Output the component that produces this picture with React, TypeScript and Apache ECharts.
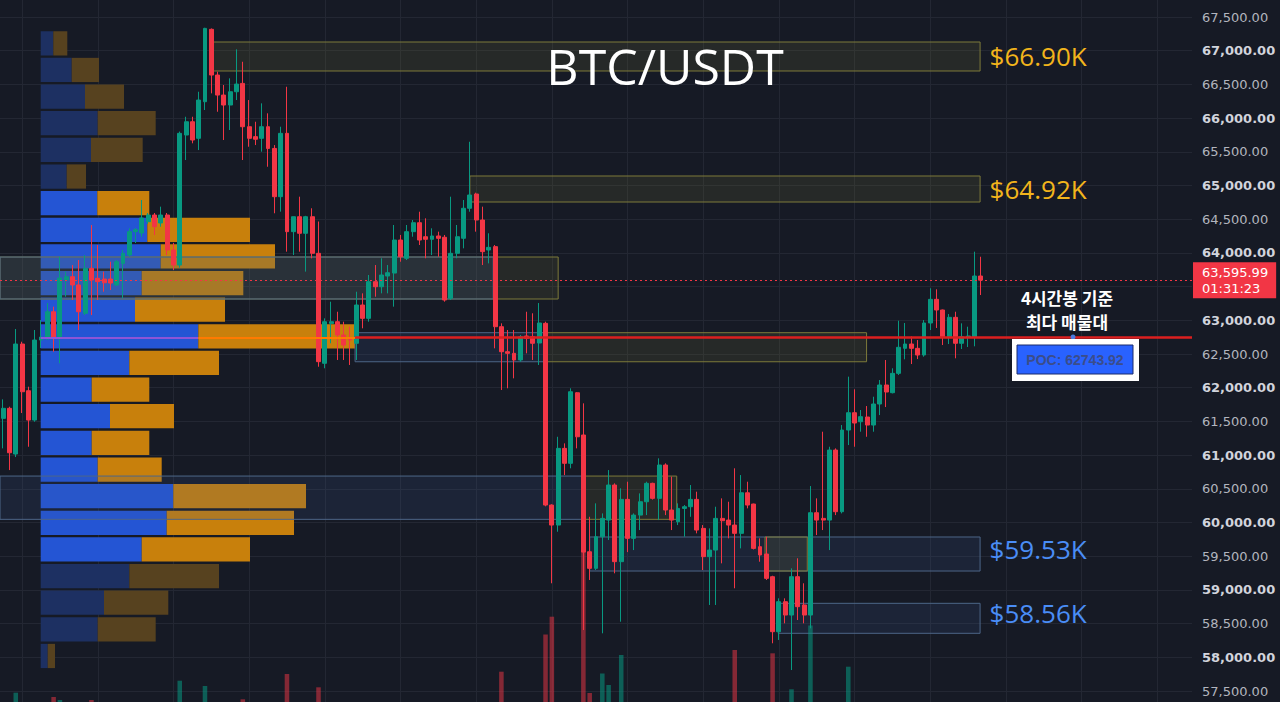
import React, { useEffect, useRef } from "react";
import * as echarts from "echarts";

// ---------- data ----------
const SLOT_COUNT = 189; // time slots on the x axis (candles + empty space on the right)

// [open, close, low, high]
const ohlc: number[][] = [
  [61545, 61694, 61100, 61827], [61694, 61035, 60778, 61718], [61016, 62648, 60971, 62871], [62648, 61940, 61624, 62682],
  [61955, 61520, 61124, 62015], [61520, 62707, 61495, 62856], [62707, 62751, 62588, 63004], [62733, 63127, 62707, 63256],
  [63127, 62733, 62534, 63202], [62756, 63627, 62362, 63943], [63598, 63647, 63350, 63722], [63647, 63524, 63301, 63820],
  [63524, 63127, 62856, 63894], [63104, 63771, 63078, 63968], [63771, 63598, 63078, 64414], [63623, 63573, 63301, 64117],
  [63612, 63557, 63424, 63722], [63612, 63553, 63449, 63869], [63524, 63869, 63509, 63894], [63845, 63994, 63326, 64043],
  [63969, 64315, 63943, 64365], [64315, 64345, 64147, 64370], [64295, 64518, 64240, 64785], [64463, 64562, 64429, 64592],
  [64562, 64389, 64266, 64592], [64444, 64562, 64389, 64686], [64562, 64043, 63969, 64592], [64043, 63820, 63746, 64147],
  [63820, 65774, 63780, 65800], [65749, 65946, 65378, 66020], [65946, 65675, 65626, 66020], [65700, 66268, 65526, 66391],
  [66243, 67331, 66120, 67340], [67317, 66639, 66367, 67330], [66639, 66342, 66094, 66688], [66342, 66194, 65675, 66491],
  [66194, 66391, 65823, 66590], [66391, 66505, 66268, 67020], [66515, 65872, 65378, 66836], [65872, 65700, 65575, 66268],
  [65725, 65686, 65600, 65946], [65700, 65872, 65502, 66219], [65872, 65550, 65278, 66071], [65550, 64834, 64588, 65600],
  [64834, 65774, 64612, 65872], [65774, 64315, 64018, 66465], [64315, 64537, 63969, 64538], [64537, 64291, 64018, 64834],
  [64291, 64537, 63722, 64550], [64537, 63994, 63919, 64662], [63994, 62386, 62311, 64466], [62362, 62979, 62288, 63029],
  [62954, 62979, 62659, 63276], [62979, 62782, 62411, 63127], [62782, 62633, 62411, 62979], [62744, 62707, 62337, 62905],
  [62659, 63227, 62411, 63424], [63227, 63029, 62881, 63400], [63029, 63573, 62979, 63672], [63573, 63498, 63350, 63820],
  [63498, 63672, 63400, 63920], [63657, 63706, 63400, 63820], [63701, 64191, 63202, 64414], [64191, 63943, 63869, 64266],
  [63920, 64315, 63894, 64414], [64315, 64448, 64240, 64488], [64448, 64191, 64117, 64611], [64240, 64202, 63920, 64513],
  [64202, 64251, 63969, 64365], [64251, 64216, 63943, 64315], [64232, 63301, 63276, 64266], [63326, 63994, 63301, 64834],
  [63994, 64240, 63920, 64414], [64217, 64662, 64068, 64785], [64662, 64859, 64611, 65649], [64874, 64488, 64315, 64893],
  [64488, 64018, 63820, 64686], [64043, 64082, 63845, 64291], [64093, 62905, 62584, 64117], [62905, 62534, 61966, 62955],
  [62534, 62510, 61991, 62856], [62510, 62411, 62139, 62856], [62411, 62756, 62386, 62782], [62767, 62733, 62510, 63127],
  [62756, 62659, 62411, 63104], [62663, 62960, 62337, 63256], [62955, 60259, 60240, 62979], [60259, 59962, 59098, 60270],
  [59962, 61100, 59863, 61272], [61100, 60878, 60704, 61174], [60878, 61940, 60804, 61991], [61925, 61272, 61100, 61935],
  [61298, 59561, 58405, 61768], [59566, 59320, 59147, 60085], [59320, 59788, 59295, 60284], [59788, 60061, 58356, 60135],
  [60036, 60556, 59740, 60778], [60556, 59419, 59246, 60581], [59419, 60343, 58528, 60507], [60343, 59765, 59561, 60605],
  [59765, 60110, 59591, 60135], [60110, 60308, 59888, 60432], [60308, 60581, 60110, 60605], [60581, 60358, 60340, 60590],
  [60358, 60853, 60036, 60952], [60853, 60185, 60110, 60878], [60185, 60036, 59888, 60680], [60011, 60209, 59962, 60284],
  [60209, 60234, 59789, 60259], [60234, 60343, 60085, 60556], [60343, 59888, 59839, 60457], [59913, 59493, 59295, 59962],
  [59493, 59591, 58776, 59913], [59591, 60061, 58776, 60234], [60061, 60026, 59394, 60358], [60036, 59962, 59765, 60308],
  [59962, 59839, 59024, 60804], [59839, 60441, 59616, 60704], [60441, 60259, 60210, 60605], [60274, 59616, 59600, 60280],
  [59641, 59518, 59418, 59765], [59532, 59171, 59147, 59788], [59196, 58380, 58208, 59210], [58380, 58825, 58257, 58875],
  [58825, 58627, 58504, 58875], [58627, 59196, 57811, 59320], [59196, 58751, 58553, 59469], [58776, 58627, 58504, 59098],
  [58627, 60145, 58430, 60541], [60145, 60036, 59814, 60358], [60061, 60036, 59888, 61347], [60036, 61075, 59591, 61124],
  [61075, 60160, 60110, 61100], [60160, 61372, 60135, 61446], [61372, 61629, 61149, 62164], [61629, 61476, 61124, 61976],
  [61495, 61570, 61347, 61669], [61565, 61446, 61272, 61728], [61446, 61758, 61347, 61866], [61758, 62040, 61594, 62114],
  [62040, 61936, 61713, 62411], [61926, 62213, 61916, 62288], [62213, 62599, 62188, 62994], [62584, 62648, 62421, 62960],
  [62648, 62584, 62351, 62759], [62584, 62485, 62425, 62707], [62485, 62960, 62460, 63004], [62960, 63311, 62856, 63475],
  [63311, 63153, 62886, 63460], [63153, 62756, 62633, 63160], [62756, 63044, 62648, 63093], [63044, 62659, 62436, 63127],
  [62659, 62756, 62574, 62955], [62746, 62767, 62604, 62905], [62756, 63657, 62614, 64018], [63657, 63596, 63375, 63943],
];

// visible volume bars: [candle index, volume]
const volumeBars: [number, number][] = [
  [2, 93], [8, 50], [9, 20], [14, 20], [28, 213], [32, 160], [38, 27], [45, 280], [50, 147],
  [79, 303], [86, 675], [87, 853], [92, 1503], [93, 90], [95, 285], [96, 170], [98, 470],
  [116, 520], [122, 487], [125, 127], [128, 765], [134, 353],
];

// volume profile rows, top (high price) to bottom
const profileUp = [126, 310, 443, 570, 503, 260, 566, 1066, 1200, 1010, 943, 1576, 886, 510, 693, 510, 570, 1326, 1260, 1010, 886, 633, 570, 70];
const profileDown = [140, 273, 390, 580, 517, 193, 520, 1027, 1143, 1016, 900, 1567, 897, 576, 640, 576, 640, 1327, 1273, 1083, 897, 643, 580, 73];
const valueAreaFirstRow = 6;
const valueAreaLastRow = 19;

const lastPrice = 63595.99;
const countdown = "01:31:23";
const poc = 62743.92;

const priceMin = 57500;
const priceMax = 67500;
const priceStep = 500;

// zones: x in candle-index units
const zones = [
  { from: 33.3, to: 154.9, low: 66699, high: 67129, kind: "supply", label: "$66.90K" },
  { from: 74.0, to: 154.9, low: 64755, high: 65141, kind: "supply", label: "$64.92K" },
  { from: -0.5, to: 88.0, low: 63316, high: 63939, kind: "supply", label: "" },
  { from: -0.5, to: 77.7, low: 63316, high: 63939, kind: "demand", label: "" },
  { from: 55.8, to: 85.9, low: 62385, high: 62816, kind: "demand", label: "" },
  { from: 85.9, to: 136.9, low: 62385, high: 62816, kind: "supply", label: "" },
  { from: -0.5, to: 92.3, low: 60047, high: 60689, kind: "demand", label: "" },
  { from: 92.3, to: 106.8, low: 60047, high: 60689, kind: "supply", label: "" },
  { from: 93.0, to: 154.9, low: 59280, high: 59785, kind: "demand", label: "$59.53K" },
  { from: 120.8, to: 127.5, low: 59280, high: 59785, kind: "supply", label: "" },
  { from: 122.9, to: 154.9, low: 58356, high: 58801, kind: "demand", label: "$58.56K" },
];

// POC line segments (candle-index units)
const pocProfileStart = 5.95;
const pocProfileBlueEnd = 30.94;
const pocProfileOrangeEnd = 55.8;

// ---------- style ----------
const BG = "#161a25";
const GRID = "#232733";
const UP = "#089981";
const DOWN = "#f23645";

export default function App() {
  const ref = useRef<HTMLDivElement>(null);

  useEffect(() => {
    if (!ref.current) return;
    const chart = echarts.init(ref.current, undefined, { renderer: "svg" });

    const slots = Array.from({ length: SLOT_COUNT }, (_, i) => String(i));
    const volData: any[] = Array.from({ length: SLOT_COUNT }, () => null);
    volumeBars.forEach(([i, v]) => {
      const c = ohlc[i];
      const up = c[1] >= c[0];
      volData[i] = {
        value: v,
        itemStyle: { color: up ? "rgba(8,153,129,0.55)" : "rgba(242,54,69,0.5)" },
      };
    });

    const inVA = (i: number) => i >= valueAreaFirstRow && i <= valueAreaLastRow;

    const fmt = (v: number) =>
      v.toLocaleString("en-US", { minimumFractionDigits: 2, maximumFractionDigits: 2 });

    const zoneAreas = zones.map((z) => {
      const supply = z.kind === "supply";
      return [
        {
          coord: [z.from, z.high],
          itemStyle: {
            color: supply ? "rgba(125,122,55,0.16)" : "rgba(60,95,150,0.16)",
            borderColor: supply ? "#7d7a3a" : "#4d6687",
            borderWidth: 1,
          },
          label: z.label
            ? {
                show: true,
                position: "right",
                distance: 9,
                offset: supply ? [0, 0] : [0, -5],
                formatter: z.label,
                color: supply ? "#f2b51c" : "#4a8df6",
                fontSize: 26,
                fontFamily: "Open Sans",
              }
            : { show: false },
        },
        { coord: [z.to, z.low] },
      ];
    });

    const option: any = {
      animation: false,
      backgroundColor: BG,
      grid: [
        { left: 0, right: 88, top: 17, bottom: 11 },
        { left: 0, right: 88, top: 0, bottom: 0 },
        { left: 40.7, top: 30, height: 639.3, width: 400 },
      ],
      xAxis: [
        { type: "category", gridIndex: 0, data: slots, show: false },
        { type: "value", gridIndex: 0, min: -0.5, max: SLOT_COUNT - 0.5, show: false },
        {
          type: "category",
          gridIndex: 1,
          data: slots,
          axisLine: { show: false },
          axisTick: { show: false },
          axisLabel: { show: false },
          splitLine: {
            show: true,
            alignWithLabel: true,
            interval: (i: number) => i % 12 === 3,
            lineStyle: { color: GRID, width: 1 },
          },
        },
        { type: "value", gridIndex: 2, min: 0, max: 4000, show: false },
      ],
      yAxis: [
        {
          type: "value",
          gridIndex: 0,
          position: "right",
          min: priceMin,
          max: priceMax,
          interval: priceStep,
          axisLine: { show: false },
          axisTick: { show: false },
          splitLine: { show: true, lineStyle: { color: GRID, width: 1 } },
          axisLabel: {
            margin: 10,
            showMinLabel: true,
            showMaxLabel: true,
            // the tick hidden behind the last-price tag is not drawn
            formatter: (v: number) =>
              Math.abs(v - lastPrice) < 250
                ? ""
                : v % 1000 === 0
                ? `{b|${fmt(v)}}`
                : `{n|${fmt(v)}}`,
            rich: {
              b: { fontFamily: "DejaVu Sans", fontSize: 13, fontWeight: "bold", color: "#d1d4dc" },
              n: { fontFamily: "DejaVu Sans", fontSize: 13, color: "#b2b5be" },
            },
          },
        },
        { type: "value", gridIndex: 1, min: 0, max: 7020, show: false },
        {
          type: "category",
          gridIndex: 2,
          inverse: true,
          data: profileUp.map((_, i) => String(i)),
          show: false,
        },
      ],
      series: [
        {
          name: "VP up",
          type: "bar",
          xAxisIndex: 3,
          yAxisIndex: 2,
          stack: "vp",
          barCategoryGap: "9%",
          z: 1,
          silent: true,
          data: profileUp.map((v, i) => ({
            value: v,
            itemStyle: { color: inVA(i) ? "#2455d4" : "#1d3062" },
          })),
        },
        {
          name: "VP down",
          type: "bar",
          xAxisIndex: 3,
          yAxisIndex: 2,
          stack: "vp",
          barCategoryGap: "9%",
          z: 1,
          silent: true,
          data: profileDown.map((v, i) => ({
            value: v,
            itemStyle: { color: inVA(i) ? "#c8800c" : "#57421f" },
          })),
        },
        {
          name: "zones",
          type: "line",
          xAxisIndex: 1,
          yAxisIndex: 0,
          data: [],
          silent: true,
          markArea: { silent: true, z: 2, data: zoneAreas },
          markLine: {
            silent: true,
            z: 5,
            symbol: ["none", "none"],
            label: { show: false },
            data: [
              [
                { coord: [pocProfileStart, poc], lineStyle: { color: "#8e55d6", width: 2, type: "solid" } },
                { coord: [pocProfileBlueEnd, poc] },
              ],
              [
                { coord: [pocProfileBlueEnd, poc], lineStyle: { color: "#ff7a00", width: 2, type: "solid" } },
                { coord: [pocProfileOrangeEnd, poc] },
              ],
              [
                { coord: [pocProfileOrangeEnd, poc], lineStyle: { color: "#dc1f1f", width: 2.5, type: "solid" } },
                { coord: [SLOT_COUNT - 0.5, poc] },
              ],
              [
                {
                  coord: [-0.5, lastPrice],
                  lineStyle: { color: DOWN, width: 1, type: [2, 3] },
                  label: {
                    show: true,
                    position: "end",
                    distance: 1,
                    formatter: `${fmt(lastPrice)}\n${countdown}`,
                    backgroundColor: DOWN,
                    color: "#ffffff",
                    fontFamily: "DejaVu Sans",
                    fontSize: 13,
                    lineHeight: 16,
                    padding: [2, 8, 2, 9],
                    align: "left",
                  },
                },
                { coord: [SLOT_COUNT - 0.5, lastPrice] },
              ],
            ],
          },
        },
        {
          name: "BTC/USDT",
          type: "candlestick",
          xAxisIndex: 0,
          yAxisIndex: 0,
          barWidth: "70%",
          z: 3,
          silent: true,
          data: ohlc,
          itemStyle: {
            color: UP,
            color0: DOWN,
            borderColor: UP,
            borderColor0: DOWN,
            borderWidth: 1,
          },
        },
        {
          name: "Volume",
          type: "bar",
          xAxisIndex: 2,
          yAxisIndex: 1,
          barWidth: "72%",
          z: 3,
          silent: true,
          data: volData,
        },
      ],
      graphic: [
        {
          type: "text",
          x: 665,
          y: 66,
          z: 20,
          style: {
            text: "BTC/USDT",
            fill: "#ffffff",
            fontSize: 50,
            fontWeight: 500,
            fontFamily: "Open Sans",
            align: "center",
            textAlign: "center",
            verticalAlign: "middle",
            textVerticalAlign: "middle",
          },
        },
        {
          type: "text",
          x: 1067,
          y: 297,
          z: 20,
          style: {
            text: "4시간봉 기준",
            fill: "#ffffff",
            fontSize: 17,
            fontWeight: "bold",
            fontFamily: "Noto Sans CJK KR",
            align: "center",
            textAlign: "center",
            verticalAlign: "middle",
            textVerticalAlign: "middle",
          },
        },
        {
          type: "text",
          x: 1067,
          y: 321,
          z: 20,
          style: {
            text: "최다 매물대",
            fill: "#ffffff",
            fontSize: 17,
            fontWeight: "bold",
            fontFamily: "Noto Sans CJK KR",
            align: "center",
            textAlign: "center",
            verticalAlign: "middle",
            textVerticalAlign: "middle",
          },
        },
        { type: "circle", z: 20, shape: { cx: 1073, cy: 337, r: 2.5 }, style: { fill: "#4a7be0" } },
        { type: "rect", z: 20, shape: { x: 1012, y: 339, width: 127, height: 42 }, style: { fill: "#ffffff" } },
        {
          type: "rect",
          z: 21,
          shape: { x: 1017, y: 345, width: 116, height: 29 },
          style: { fill: "#2962ff", stroke: "#1b2b6b", lineWidth: 1 },
        },
        {
          type: "text",
          x: 1075,
          y: 360,
          z: 22,
          style: {
            text: `POC: ${poc}`,
            fill: "#3b4d8a",
            fontSize: 14,
            fontWeight: "bold",
            fontFamily: "Liberation Sans",
            align: "center",
            textAlign: "center",
            verticalAlign: "middle",
            textVerticalAlign: "middle",
          },
        },
      ],
    };

    chart.setOption(option);
    return () => chart.dispose();
  }, []);

  return (
    <div
      ref={ref}
      style={{ position: "fixed", left: 0, top: 0, width: 1280, height: 702, background: BG }}
    />
  );
}
